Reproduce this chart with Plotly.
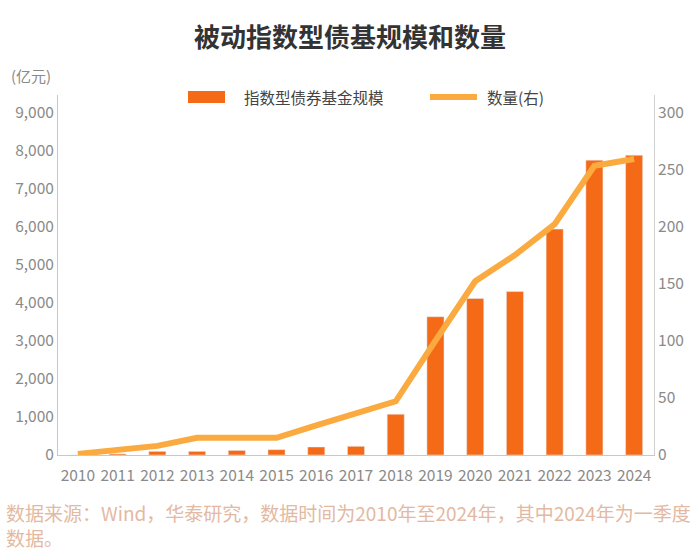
import plotly.graph_objects as go

years = [str(y) for y in range(2010, 2025)]
scale = [0, 30, 95, 95, 120, 140, 210, 228, 1070, 3630, 4110, 4290, 5930, 7740, 7870]
count = [1, 4, 8, 15, 15, 15, 26, 37, 47, 100, 152, 175, 202, 253, 259]
left_ticks = list(range(0, 9001, 1000))
right_ticks = list(range(0, 301, 50))

FONT = "Noto Sans CJK SC"
BAR_C = "#F56A17"
LINE_C = "#FBAA3F"
TICK_C = "#8A8A8A"

W, H = 700, 560
L, R, T, B = 58, 46, 95, 105
pw, ph = W - L - R, H - T - B

def px(x):
    return (x - L) / pw

def py(y):
    return (H - B - y) / ph

fig = go.Figure()
fig.add_trace(go.Bar(x=years, y=scale, marker_color=BAR_C, name="指数型债券基金规模",
                     yaxis="y", showlegend=False))
fig.add_trace(go.Scatter(x=years, y=count, mode="lines", line=dict(color=LINE_C, width=6),
                         name="数量(右)", yaxis="y2", showlegend=False))

fig.update_layout(
    width=W, height=H,
    margin=dict(l=L, r=R, t=T, b=B),
    paper_bgcolor="white", plot_bgcolor="white",
    font=dict(family=FONT, color=TICK_C, size=15),
    bargap=0.57,
    title=dict(text="<b>被动指数型债基规模和数量</b>", x=0.5, xanchor="center",
               y=1 - 38 / H, yanchor="middle",
               font=dict(family=FONT, size=26, color="#333333")),
    xaxis=dict(type="category", range=[-0.5, 14.5], showline=True, linecolor="#C8C8C8",
               linewidth=1, ticks="", ticklabelstandoff=6,
               tickfont=dict(size=15.5, color=TICK_C), showgrid=False),
    yaxis=dict(range=[0, 9450], tickvals=left_ticks,
               ticktext=[f"{v:,}" for v in left_ticks], showline=True, linecolor="#C8C8C8",
               linewidth=1, showgrid=False, zeroline=False, ticks="",
               tickfont=dict(size=15.5, color=TICK_C)),
    yaxis2=dict(range=[0, 315], tickvals=right_ticks, overlaying="y", side="right",
                showline=True, linecolor="#D0D0D0", linewidth=1, showgrid=False,
                zeroline=False, ticks="", tickfont=dict(size=15.5, color=TICK_C)),
    showlegend=False,
)

# custom legend
fig.add_shape(type="rect", xref="paper", yref="paper",
              x0=px(188), x1=px(225), y0=py(103), y1=py(91),
              fillcolor=BAR_C, line=dict(width=0))
fig.add_annotation(text="指数型债券基金规模", xref="paper", yref="paper",
                   x=px(242), y=py(97), xanchor="left", yanchor="middle", showarrow=False,
                   font=dict(family=FONT, size=15.5, color="#444444"))
fig.add_shape(type="line", xref="paper", yref="paper",
              x0=px(430), x1=px(477), y0=py(97), y1=py(97),
              line=dict(color=LINE_C, width=6))
fig.add_annotation(text="数量(右)", xref="paper", yref="paper",
                   x=px(485), y=py(97), xanchor="left", yanchor="middle", showarrow=False,
                   font=dict(family=FONT, size=15.5, color="#444444"))

# unit label
fig.add_annotation(text="(亿元)", xref="paper", yref="paper",
                   x=px(9), y=py(75), xanchor="left", yanchor="middle", showarrow=False,
                   font=dict(family=FONT, size=15, color=TICK_C))

# source note
fig.add_annotation(text="数据来源：Wind，华泰研究，数据时间为2010年至2024年，其中2024年为一季度<br>数据。",
                   xref="paper", yref="paper", x=px(4), y=py(497),
                   xanchor="left", yanchor="top", align="left", showarrow=False,
                   font=dict(family=FONT, size=19, color="#E3B9A1"))

fig.write_html("out.html")
